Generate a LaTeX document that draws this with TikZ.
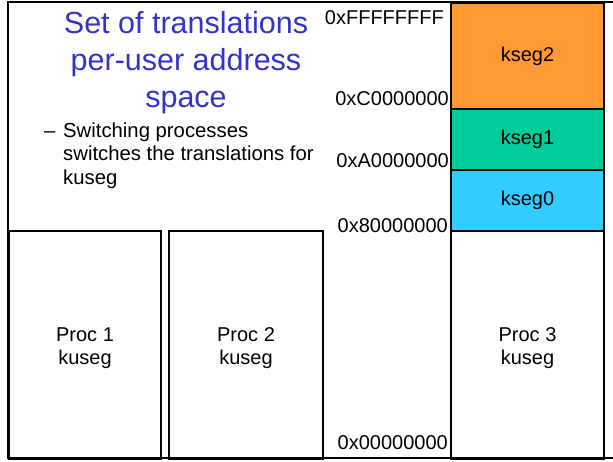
\documentclass[tikz,border=0pt]{standalone}
\usepackage{fontspec}
\setmainfont{Liberation Sans}
\definecolor{titleblue}{RGB}{51,51,204}
\definecolor{segorange}{RGB}{255,153,51}
\definecolor{seggreen}{RGB}{0,204,153}
\definecolor{segcyan}{RGB}{51,204,255}
\tikzset{
  membox/.style={draw=black, line width=2pt, inner sep=0pt, align=center,
    anchor=north west, font=\fontsize{20}{23.5}\selectfont},
  boxtext/.style={inner sep=0pt, align=center, yshift=-3pt,
    font=\fontsize{20}{23.5}\selectfont},
  addr/.style={anchor=base east, inner sep=0pt, font=\fontsize{20}{24}\selectfont},
  frameline/.style={line width=2pt}
}
\begin{document}
\begin{tikzpicture}[x=1pt,y=-1pt]
\useasboundingbox (0,0) rectangle (613,461);
% outer frame
\coordinate (ftr) at (613,2);
\coordinate (ftl) at (8,2);
\coordinate (fbl) at (8,458);
\coordinate (fbr) at (613,458);
\draw[frameline] (ftr) -- (ftl) -- (fbl) -- (fbr);

% title and bullet (anchored at the baseline of their last line)
\node[anchor=base, inner sep=0pt, text=titleblue, align=center,
      font=\fontsize{30.5}{37}\selectfont] (title) at (186,107)
  {Set of translations\\per-user address\\space};
\node[anchor=base west, inner sep=0pt, align=left,
      font=\fontsize{20.3}{23.5}\selectfont] (bullet) at (44,184)
  {\makebox[19pt][l]{–}Switching processes\\
   \hspace*{19pt}switches the translations for\\
   \hspace*{19pt}kuseg};

% per-process user segments
\node[membox, minimum width=152, minimum height=228] (p1) at (8,230) {};
\node[membox, minimum width=154, minimum height=228] (p2) at (168,230) {};
\node[boxtext] (p1t) at (p1.center) {Proc 1\\kuseg};
\node[boxtext] (p2t) at (p2.center) {Proc 2\\kuseg};

% kernel segments and Proc 3
\node[membox, fill=segorange, minimum width=153, minimum height=106] (k2) at (450,2) {kseg2};
\node[membox, fill=seggreen, minimum width=153, minimum height=61] (k1) at (450,108) {kseg1};
\node[membox, fill=segcyan, minimum width=153, minimum height=61] (k0) at (450,169) {kseg0};
\node[membox, minimum width=153, minimum height=228] (p3) at (450,230) {};
\node[boxtext] (p3t) at (p3.center) {Proc 3\\kuseg};

% address labels
\node[addr] (aF) at (444,24) {0xFFFFFFFF};
\node[addr] (aC) at (449,105) {0xC0000000};
\node[addr] (aA) at (449,167) {0xA0000000};
\node[addr] (a8) at (448,232) {0x80000000};
\node[addr] (a0) at (448,449) {0x00000000};
\end{tikzpicture}
\end{document}
